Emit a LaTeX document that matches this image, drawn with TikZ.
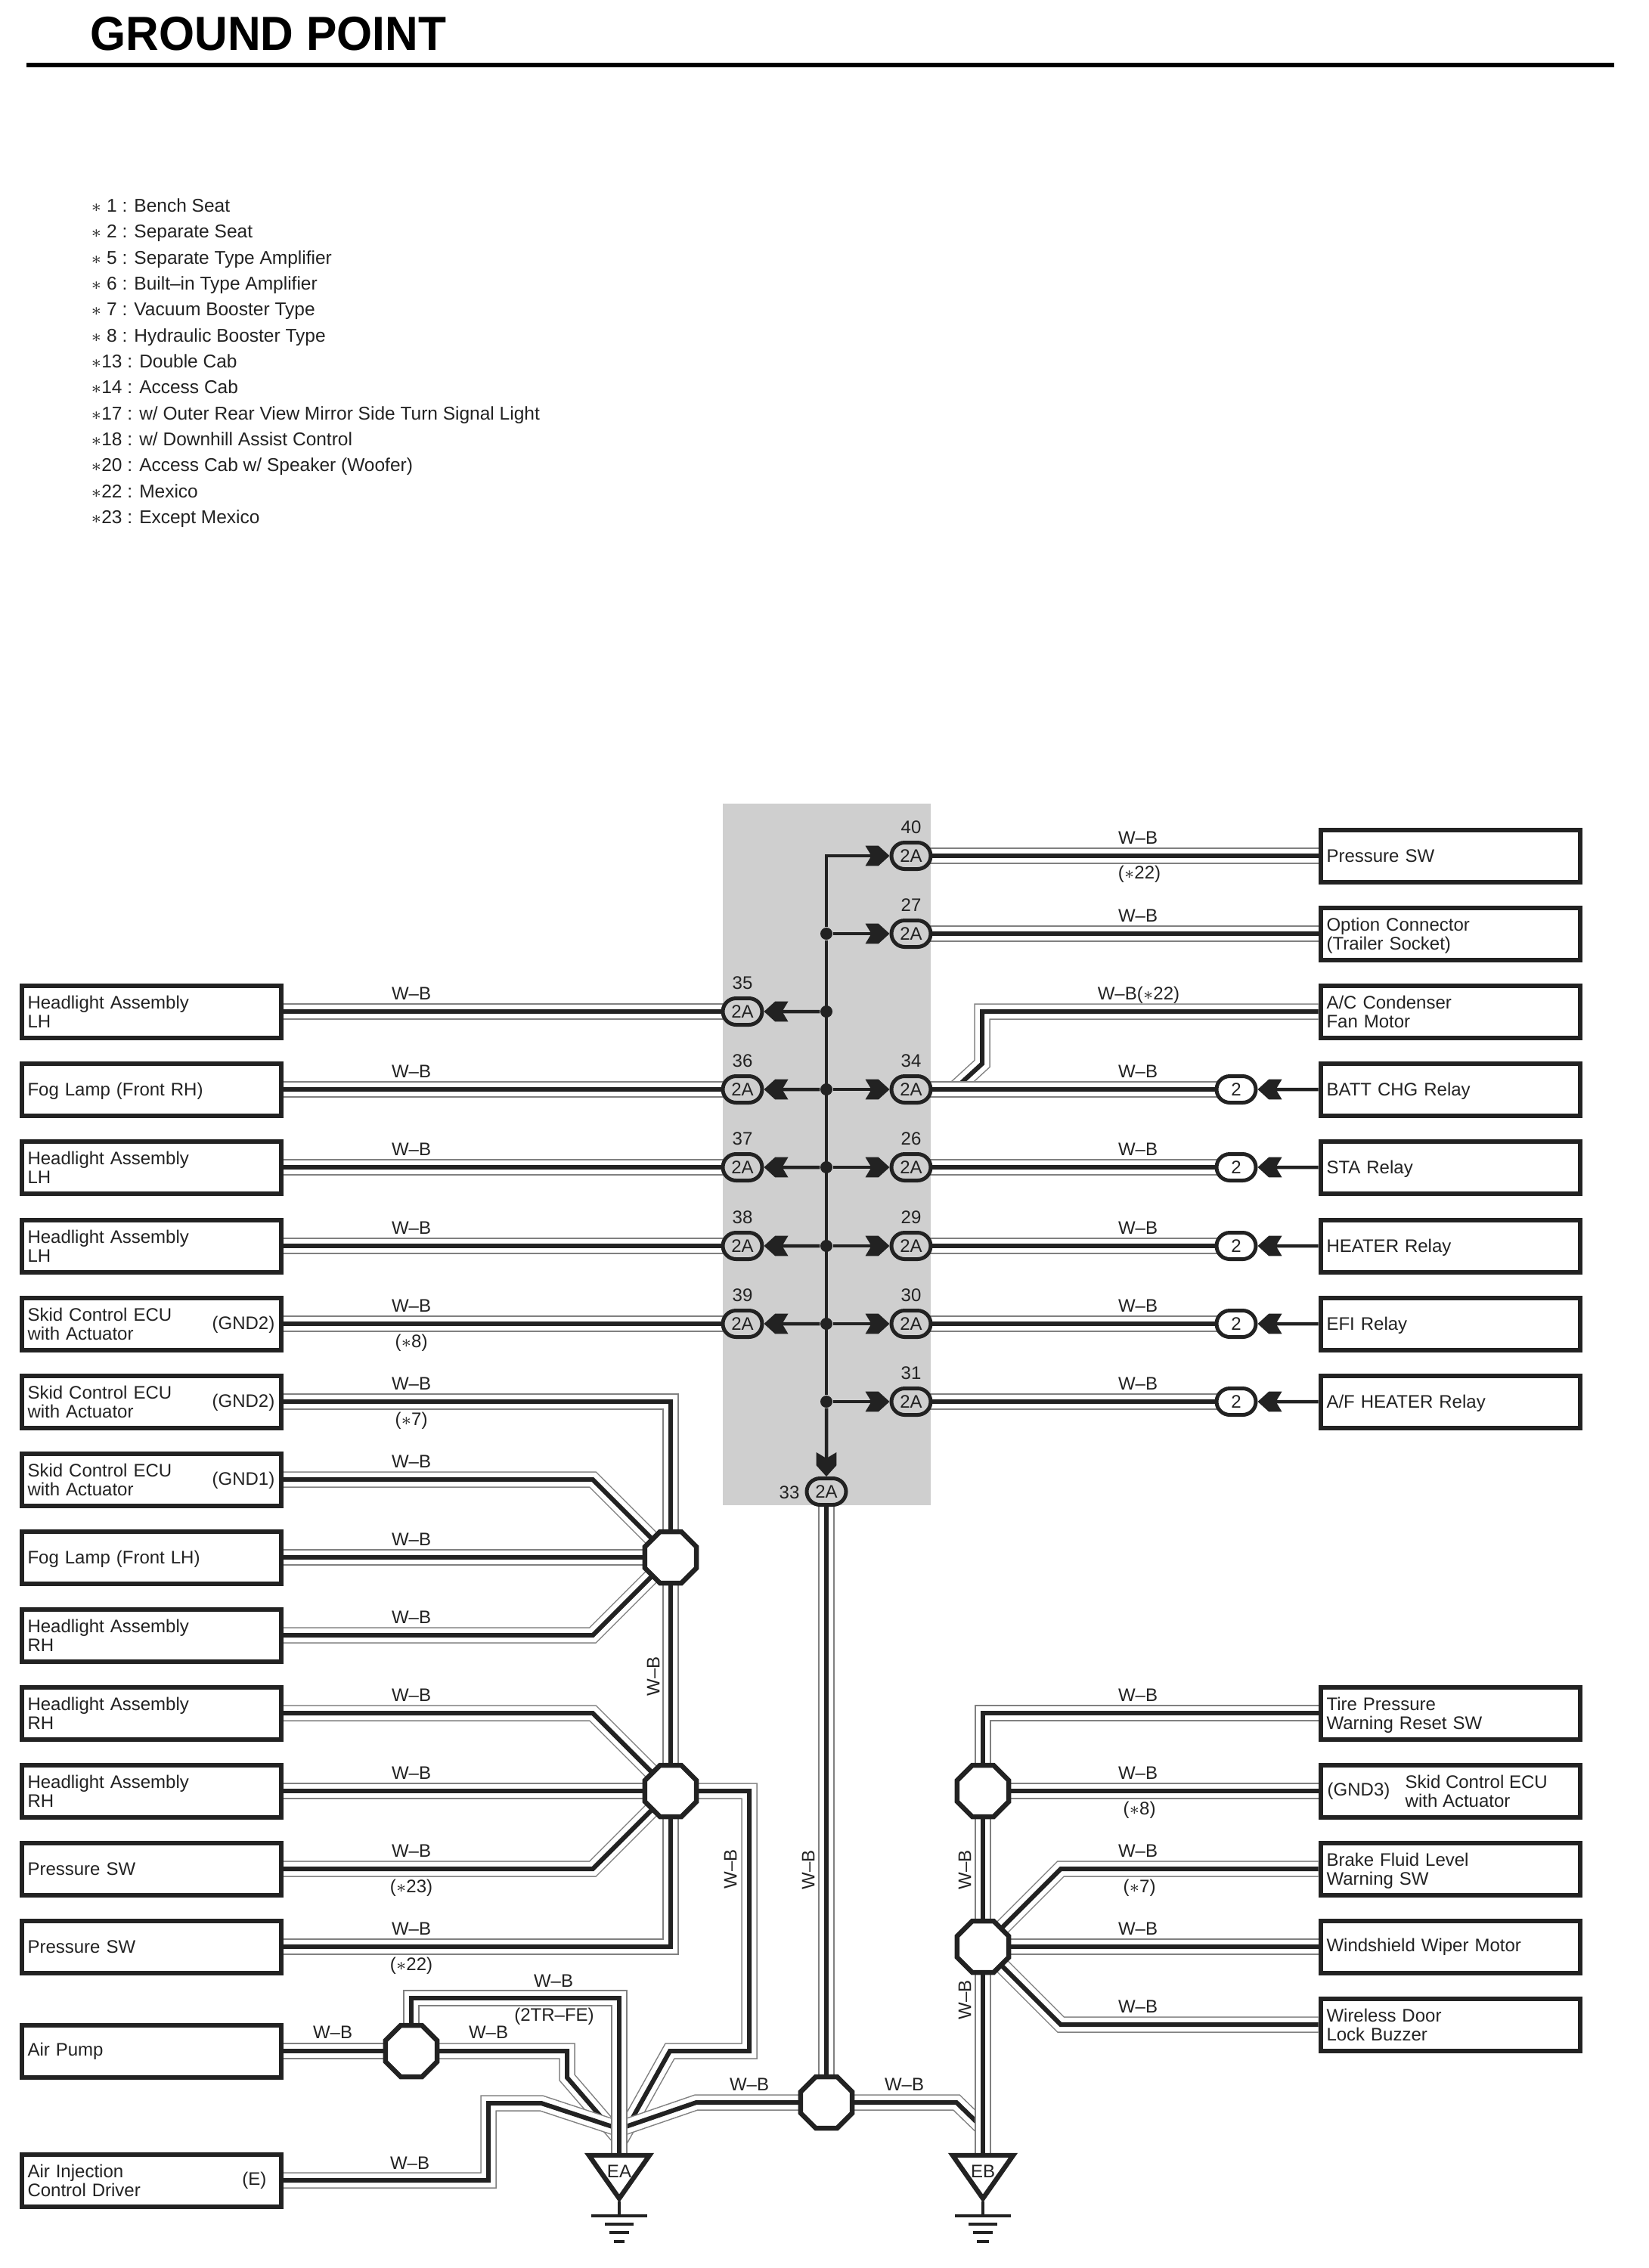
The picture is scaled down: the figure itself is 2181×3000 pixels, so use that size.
\documentclass[tikz,border=0pt]{standalone}
\usepackage{fontspec}
\setmainfont{Liberation Sans}
\usetikzlibrary{shapes.geometric,shapes.misc,backgrounds}
\definecolor{wirek}{HTML}{222222}
\definecolor{wireg}{HTML}{808080}
\definecolor{blockg}{HTML}{CFCFCF}
\pgfdeclarearrow{
	name=chev,
	setup code={
		\pgfarrowssettipend{9.6pt}
		\pgfarrowssetbackend{0pt}
		\pgfarrowssetlineend{3pt}
		\pgfarrowssetvisualbackend{3pt}
		\pgfarrowshullpoint{9.6pt}{0pt}
		\pgfarrowshullpoint{5.2pt}{4pt}
		\pgfarrowshullpoint{5.2pt}{-4pt}
		\pgfarrowshullpoint{0pt}{4pt}
		\pgfarrowshullpoint{0pt}{-4pt}
	},
	drawing code={
		\pgfpathmoveto{\pgfqpoint{9.6pt}{0pt}}
		\pgfpathlineto{\pgfqpoint{5.2pt}{4pt}}
		\pgfpathlineto{\pgfqpoint{0pt}{4pt}}
		\pgfpathlineto{\pgfqpoint{2.4pt}{0pt}}
		\pgfpathlineto{\pgfqpoint{0pt}{-4pt}}
		\pgfpathlineto{\pgfqpoint{5.2pt}{-4pt}}
		\pgfpathclose
		\pgfusepathqfill
	}
}
\tikzset{
	txt/.style={inner sep=0pt,text=wirek,font=\fontsize{7.2}{7.5}\selectfont},
	unit/.style={txt,draw=wirek,line width=1.8pt,minimum width=102.9pt,minimum height=20.7pt,text width=98.1pt,inner xsep=2.4pt,inner ysep=0pt,align=left},
	solo/.style={unit,text depth=0pt},
	conn/.style={txt,draw=wirek,rounded rectangle,line width=1.5pt,minimum width=15.6pt,minimum height=10.5pt,fill=blockg},
	splice/.style={draw=wirek,fill=white,regular polygon,regular polygon sides=8,line width=1.95pt,minimum size=22.1pt,inner sep=0pt},
	dot/.style={circle,fill=wirek,inner sep=0pt,minimum size=4.8pt},
	wire/.style={draw=wirek,line width=1.8pt,preaction={draw=wireg,line width=6.45pt},preaction={draw=white,line width=5.55pt}},
	bus/.style={draw=wirek,line width=1.35pt},
	gnd/.style={draw=wirek,fill=white,line width=1.9pt},
	gbar/.style={draw=wirek,line width=1.2pt}
}
\begin{document}
\begin{tikzpicture}[x=0.3pt,y=-0.3pt]
	\useasboundingbox (0,0) rectangle (2181,3000);
	\node[inner sep=0pt,anchor=west,xscale=.955,font=\bfseries\fontsize{19}{19}\selectfont] (title) at (119,45) {GROUND POINT};
	\draw[black,line width=1.8pt] (35,86)--(2135,86);
	\node[txt,anchor=west,align=left,font=\fontsize{7.35}{10.3}\selectfont] (legend) at (120,480) {$\ast$ 1 : Bench Seat\\$\ast$ 2 : Separate Seat\\$\ast$ 5 : Separate Type Amplifier\\$\ast$ 6 : Built–in Type Amplifier\\$\ast$ 7 : Vacuum Booster Type\\$\ast$ 8 : Hydraulic Booster Type\\$\ast$13 : Double Cab\\$\ast$14 : Access Cab\\$\ast$17 : w/ Outer Rear View Mirror Side Turn Signal Light\\$\ast$18 : w/ Downhill Assist Control\\$\ast$20 : Access Cab w/ Speaker (Woofer)\\$\ast$22 : Mexico\\$\ast$23 : Except Mexico};

	\node[unit] (l2) at (200,1338) {Headlight Assembly\\LH};
	\node[solo] (l3) at (200,1441) {Fog Lamp (Front RH)};
	\node[unit] (l4) at (200,1544) {Headlight Assembly\\LH};
	\node[unit] (l5) at (200,1648) {Headlight Assembly\\LH};
	\node[unit] (l6) at (200,1751) {Skid Control ECU\\with Actuator};
	\node[unit] (l7) at (200,1854) {Skid Control ECU\\with Actuator};
	\node[unit] (l8) at (200,1957) {Skid Control ECU\\with Actuator};
	\node[solo] (l9) at (200,2060) {Fog Lamp (Front LH)};
	\node[unit] (l10) at (200,2163) {Headlight Assembly\\RH};
	\node[unit] (l11) at (200,2266) {Headlight Assembly\\RH};
	\node[unit] (l12) at (200,2369) {Headlight Assembly\\RH};
	\node[unit] (l13) at (200,2472) {Pressure SW};
	\node[unit] (l14) at (200,2575) {Pressure SW};
	\node[unit] (lpump) at (200,2713) {Air Pump};
	\node[unit] (linj) at (200,2884) {Air Injection\\Control Driver};
	\node[txt,anchor=east] (g6) at (364,1752) {(GND2)};
	\node[txt,anchor=east] (g7) at (364,1855) {(GND2)};
	\node[txt,anchor=east] (g8) at (364,1958) {(GND1)};
	\node[txt,anchor=east] (ge) at (353,2884) {(E)};

	\node[unit] (r0) at (1918,1132) {Pressure SW};
	\node[unit] (r1) at (1918,1235) {Option Connector\\\smash{(Trailer Socket)}};
	\node[unit] (r2) at (1918,1338) {A/C Condenser\\Fan Motor};
	\node[solo] (r3) at (1918,1441) {BATT CHG Relay};
	\node[solo] (r4) at (1918,1544) {STA Relay};
	\node[solo] (r5) at (1918,1648) {HEATER Relay};
	\node[solo] (r6) at (1918,1751) {EFI Relay};
	\node[solo] (r7) at (1918,1854) {A/F HEATER Relay};
	\node[unit] (r11) at (1918,2266) {Tire Pressure\\\smash{Warning Reset SW}};
	\node[unit] (r12) at (1918,2369) {};
	\node[unit] (r13) at (1918,2472) {Brake Fluid Level\\\smash{Warning SW}};
	\node[unit] (r14) at (1918,2575) {Windshield Wiper Motor};
	\node[unit] (r15) at (1918,2678) {Wireless Door\\Lock Buzzer};
	\node[txt,anchor=west] (g12) at (1755,2369) {(GND3)};
	\node[txt,anchor=west,align=left] (sk12) at (1858,2369) {Skid Control ECU\\with Actuator};

	\node[conn] (c40) at (1205,1132) {2A};
	\node[conn] (c27) at (1205,1235) {2A};
	\node[conn] (c34) at (1205,1441) {2A};
	\node[conn] (c26) at (1205,1544) {2A};
	\node[conn] (c29) at (1205,1648) {2A};
	\node[conn] (c30) at (1205,1751) {2A};
	\node[conn] (c31) at (1205,1854) {2A};
	\node[conn] (c35) at (982,1338) {2A};
	\node[conn] (c36) at (982,1441) {2A};
	\node[conn] (c37) at (982,1544) {2A};
	\node[conn] (c38) at (982,1648) {2A};
	\node[conn] (c39) at (982,1751) {2A};
	\node[conn] (c33) at (1093,1973) {2A};
	\node[txt] (n40) at (1205,1094) {40};
	\node[txt] (n27) at (1205,1197) {27};
	\node[txt] (n34) at (1205,1403) {34};
	\node[txt] (n26) at (1205,1506) {26};
	\node[txt] (n29) at (1205,1610) {29};
	\node[txt] (n30) at (1205,1713) {30};
	\node[txt] (n31) at (1205,1816) {31};
	\node[txt] (n35) at (982,1300) {35};
	\node[txt] (n36) at (982,1403) {36};
	\node[txt] (n37) at (982,1506) {37};
	\node[txt] (n38) at (982,1610) {38};
	\node[txt] (n39) at (982,1713) {39};
	\node[txt] (n33) at (1044,1974) {33};

	\node[conn,fill=white] (t3) at (1635,1441) {2};
	\node[conn,fill=white] (t4) at (1635,1544) {2};
	\node[conn,fill=white] (t5) at (1635,1648) {2};
	\node[conn,fill=white] (t6) at (1635,1751) {2};
	\node[conn,fill=white] (t7) at (1635,1854) {2};

	\node[dot] (j1) at (1093,1235) {};
	\node[dot] (j2) at (1093,1338) {};
	\node[dot] (j3) at (1093,1441) {};
	\node[dot] (j4) at (1093,1544) {};
	\node[dot] (j5) at (1093,1648) {};
	\node[dot] (j6) at (1093,1751) {};
	\node[dot] (j7) at (1093,1854) {};
	\coordinate (jt) at (1093,1132);

	\node[splice] (s1) at (887,2060) {};
	\node[splice] (s2) at (887,2369) {};
	\node[splice] (s3) at (1300,2369) {};
	\node[splice] (s4) at (1300,2575) {};
	\node[splice] (s5) at (1093,2781) {};
	\node[splice] (s6) at (544,2713) {};

	\draw[gnd] (779,2851)--(859,2851)--(819,2908)--cycle;
	\draw[gnd] (1260,2851)--(1340,2851)--(1300,2908)--cycle;
	\node[txt] (ea) at (819,2872) {EA};
	\node[txt] (eb) at (1300,2872) {EB};
	\draw[bus] (819,2912)--(819,2931);
	\draw[bus] (1300,2912)--(1300,2931);
	\draw[gbar] (782,2931)--(856,2931);
	\draw[gbar] (800,2942)--(838,2942);
	\draw[gbar] (806,2953)--(832,2953);
	\draw[gbar] (812,2965)--(826,2965);
	\draw[gbar] (1263,2931)--(1337,2931);
	\draw[gbar] (1281,2942)--(1319,2942);
	\draw[gbar] (1287,2953)--(1313,2953);
	\draw[gbar] (1292,2965)--(1308,2965);

	\node[txt] (wl2) at (544,1314) {W–B};
	\node[txt] (wl3) at (544,1417) {W–B};
	\node[txt] (wl4) at (544,1520) {W–B};
	\node[txt] (wl5) at (544,1624) {W–B};
	\node[txt] (wl6) at (544,1727) {W–B};
	\node[txt] (wl7) at (544,1830) {W–B};
	\node[txt] (wl8) at (544,1933) {W–B};
	\node[txt] (wl9) at (544,2036) {W–B};
	\node[txt] (wl10) at (544,2139) {W–B};
	\node[txt] (wl11) at (544,2242) {W–B};
	\node[txt] (wl12) at (544,2345) {W–B};
	\node[txt] (wl13) at (544,2448) {W–B};
	\node[txt] (wl14) at (544,2551) {W–B};
	\node[txt] (ol6) at (544,1776) {($\ast$8)};
	\node[txt] (ol7) at (544,1879) {($\ast$7)};
	\node[txt] (ol13) at (544,2497) {($\ast$23)};
	\node[txt] (ol14) at (544,2600) {($\ast$22)};
	\node[txt] (wr0) at (1505,1108) {W–B};
	\node[txt] (wr1) at (1505,1211) {W–B};
	\node[txt] (wr2) at (1506,1316) {W–B($\ast$22)};
	\node[txt] (wr3) at (1505,1417) {W–B};
	\node[txt] (wr4) at (1505,1520) {W–B};
	\node[txt] (wr5) at (1505,1624) {W–B};
	\node[txt] (wr6) at (1505,1727) {W–B};
	\node[txt] (wr7) at (1505,1830) {W–B};
	\node[txt] (wr11) at (1505,2242) {W–B};
	\node[txt] (wr12) at (1505,2345) {W–B};
	\node[txt] (wr13) at (1505,2448) {W–B};
	\node[txt] (wr14) at (1505,2551) {W–B};
	\node[txt] (wr15) at (1505,2654) {W–B};
	\node[txt] (or0) at (1507,1156) {($\ast$22)};
	\node[txt] (or12) at (1507,2394) {($\ast$8)};
	\node[txt] (or13) at (1507,2497) {($\ast$7)};
	\node[txt,rotate=90] (vw1) at (864,2217) {W–B};
	\node[txt,rotate=90] (vw2) at (966,2472) {W–B};
	\node[txt,rotate=90] (vw3) at (1069,2473) {W–B};
	\node[txt,rotate=90] (vw4) at (1276,2473) {W–B};
	\node[txt,rotate=90] (vw5) at (1276,2645) {W–B};
	\node[txt] (wp1) at (440,2688) {W–B};
	\node[txt] (wp2) at (646,2688) {W–B};
	\node[txt] (wp3) at (732,2620) {W–B};
	\node[txt] (op3) at (733,2667) {(2TR–FE)};
	\node[txt] (wi1) at (542,2861) {W–B};
	\node[txt] (wb1) at (991,2757) {W–B};
	\node[txt] (wb2) at (1196,2757) {W–B};

	\begin{scope}[on background layer]
		\fill[blockg] (956,1063) rectangle (1231,1991);
		\draw[wire] (l2)--(c35.center);
		\draw[wire] (l3)--(c36.center);
		\draw[wire] (l4)--(c37.center);
		\draw[wire] (l5)--(c38.center);
		\draw[wire] (l6)--(c39.center);
		\draw[wire] (l7.east)--(887,1854)--(s1.center);
		\draw[wire] (l8.east)--(784,1957)--(s1.center);
		\draw[wire] (l9.east)--(s1.center);
		\draw[wire] (l10.east)--(784,2163)--(s1.center);
		\draw[wire] (s1.center)--(s2.center);
		\draw[wire] (l11.east)--(784,2266)--(s2.center);
		\draw[wire] (l12.east)--(s2.center);
		\draw[wire] (l13.east)--(784,2472)--(s2.center);
		\draw[wire] (l14.east)--(887,2575)--(s2.center);
		\draw[wire] (s2.center)--(991,2369)--(991,2713)--(886,2713)--(819,2833);
		\draw[wire] (s6.center)--(750,2713)--(750,2748)--(819,2828);
		\draw[wire] (linj.east)--(646,2884)--(646,2782)--(716,2782)--(819,2816);
		\draw[wire] (s5.center)--(921,2781)--(819,2816);
		\draw[wire] (lpump.east)--(s6.center);
		\draw[wire] (s6.center)--(544,2643)--(819,2643)--(ea.center);
		\draw[wire] (c33.center)--(s5.center);
		\draw[wire] (s5.center)--(1265,2781)--(1300,2815);
		\draw[wire] (r11.west)--(1300,2266)--(s3.center);
		\draw[wire] (r12.west)--(s3.center);
		\draw[wire] (s3.center)--(s4.center);
		\draw[wire] (r13.west)--(1403,2472)--(s4.center);
		\draw[wire] (r14.west)--(s4.center);
		\draw[wire] (r15.west)--(1403,2678)--(s4.center);
		\draw[wire] (s4.center)--(eb.center);
		\draw[wire] (c40.center)--(r0);
		\draw[wire] (c27.center)--(r1);
		\draw[wire] (r2.west)--(1299,1338)--(1299,1407)--(1262,1441);
		\draw[wire] (c34.center)--(t3.center);
		\draw[wire] (c26.center)--(t4.center);
		\draw[wire] (c29.center)--(t5.center);
		\draw[wire] (c30.center)--(t6.center);
		\draw[wire] (c31.center)--(t7.center);
		\draw[bus,-chev] (j1)--(jt)--(c40);
		\draw[bus,-chev] (j1)--(c27);
		\draw[bus] (j1)--(j7);
		\draw[bus,-chev] (j2)--(c35);
		\draw[bus,-chev] (j3)--(c36);
		\draw[bus,-chev] (j3)--(c34);
		\draw[bus,-chev] (j4)--(c37);
		\draw[bus,-chev] (j4)--(c26);
		\draw[bus,-chev] (j5)--(c38);
		\draw[bus,-chev] (j5)--(c29);
		\draw[bus,-chev] (j6)--(c39);
		\draw[bus,-chev] (j6)--(c30);
		\draw[bus,-chev] (j7)--(c31);
		\draw[bus,-chev] (j7)--(c33);
		\draw[bus,-chev] (r3)--(t3);
		\draw[bus,-chev] (r4)--(t4);
		\draw[bus,-chev] (r5)--(t5);
		\draw[bus,-chev] (r6)--(t6);
		\draw[bus,-chev] (r7)--(t7);
	\end{scope}
\end{tikzpicture}
\end{document}
